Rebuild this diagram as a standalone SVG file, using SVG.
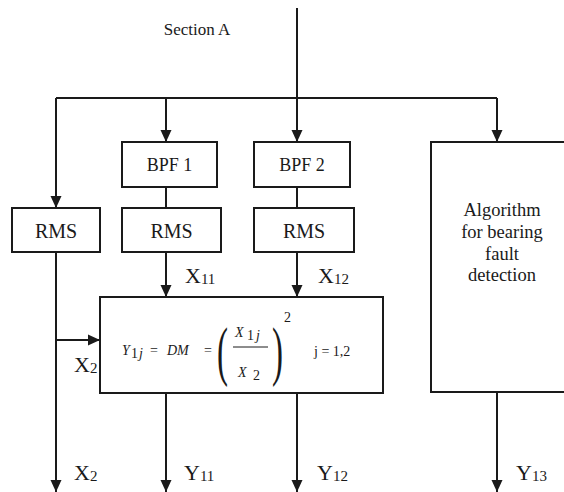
<svg xmlns="http://www.w3.org/2000/svg" width="564" height="492" viewBox="0 0 564 492" font-family="'Liberation Serif', 'Times New Roman', Tinos, 'DejaVu Serif', serif">
<defs>
<marker id="ah" markerUnits="userSpaceOnUse" markerWidth="12" markerHeight="12" refX="12" refY="6" orient="auto">
<path d="M0,0.5 L12,6 L0,11.5 z" fill="#1a1a1a"/>
</marker>
<style>
.box{fill:#fff;stroke:#1a1a1a;stroke-width:2}
.ln{fill:none;stroke:#1a1a1a;stroke-width:2}
.arr{fill:none;stroke:#1a1a1a;stroke-width:2;marker-end:url(#ah)}
text{fill:#1a1a1a}
.lbl{font-size:20px;text-anchor:middle}
.big{font-size:22px}
.sub{font-size:15px}
.eq{font-size:14px;font-style:italic}
.eqn{font-size:14px}
</style>
</defs>
<rect width="564" height="492" fill="#fff"/>
<g id="connectors">
<path class="ln" d="M297,8 V98 M56,98 H497"/>
<path class="arr" d="M56,98 V208"/>
<path class="arr" d="M166,98 V142"/>
<path class="arr" d="M297,98 V142"/>
<path class="arr" d="M497,98 V142"/>
<path class="ln" d="M166,187 V208 M297,187 V208"/>
<path class="arr" d="M56,252 V492"/>
<path class="arr" d="M56,340 H100"/>
<path class="arr" d="M166,252 V297"/>
<path class="arr" d="M297,252 V297"/>
<path class="arr" d="M166,393 V492"/>
<path class="arr" d="M297,393 V492"/>
<path class="arr" d="M497,392 V492"/>
</g>
<g id="section-label"><text x="197" y="35" font-family="Liberation Serif" style="font-size:17px;text-anchor:middle">Section A</text></g>
<g id="bpf1"><rect class="box" x="122" y="142" width="95" height="45"/><text class="lbl" x="169.5" y="171" style="font-size:18px">BPF 1</text></g>
<g id="bpf2"><rect class="box" x="254" y="142" width="96" height="45"/><text class="lbl" x="302" y="171" style="font-size:18px">BPF 2</text></g>
<g id="rms0"><rect class="box" x="12" y="208" width="88" height="44"/><text class="lbl" x="56" y="238">RMS</text></g>
<g id="rms1"><rect class="box" x="122" y="208" width="99" height="44"/><text class="lbl" x="171.5" y="238">RMS</text></g>
<g id="rms2"><rect class="box" x="254" y="208" width="100" height="44"/><text class="lbl" x="304" y="238">RMS</text></g>
<g id="algorithm"><rect class="box" x="431" y="142" width="160" height="250"/>
<text class="lbl" style="font-size:18.5px" x="502" y="216">Algorithm</text>
<text class="lbl" style="font-size:18.5px" x="502" y="238">for bearing</text>
<text class="lbl" style="font-size:18.5px" x="502" y="260">fault</text>
<text class="lbl" style="font-size:18.5px" x="502" y="281">detection</text>
</g>
<g id="dm"><rect class="box" x="100" y="297" width="283" height="96"/>
<text class="eq" x="122" y="355">Y</text><text class="eqn" x="131" y="358">1</text><text class="eq" x="139" y="358">j</text>
<text class="eqn" x="150" y="355">=</text>
<text class="eq" x="167" y="355">DM</text>
<text class="eqn" x="204" y="355">=</text>
<text transform="translate(217,373) scale(0.5,1)" style="font-size:66px;font-weight:300">(</text>
<text class="eq" x="235" y="337">X</text><text class="eqn" x="247" y="340">1</text><text class="eq" x="256" y="340">j</text>
<path d="M233,347 H268" style="fill:none;stroke:#1a1a1a;stroke-width:1"/>
<text class="eq" x="238" y="377">X</text><text class="eqn" x="253" y="380">2</text>
<text transform="translate(272,373) scale(0.5,1)" style="font-size:66px;font-weight:300">)</text>
<text class="eqn" x="284" y="322">2</text>
<text class="eqn" x="314" y="356">j = 1,2</text>
</g>
<g id="labels">
<text class="big" x="185" y="283">X<tspan class="sub" dy="1">11</tspan></text>
<text class="big" x="318" y="283">X<tspan class="sub" dy="1">12</tspan></text>
<text class="big" x="74" y="372">X<tspan class="sub" dy="1">2</tspan></text>
<text class="big" x="74" y="480">X<tspan class="sub" dy="1">2</tspan></text>
<text class="big" x="184" y="480">Y<tspan class="sub" dy="1">11</tspan></text>
<text class="big" x="317" y="480">Y<tspan class="sub" dy="1">12</tspan></text>
<text class="big" x="516" y="480">Y<tspan class="sub" dy="1">13</tspan></text>
</g>
</svg>
